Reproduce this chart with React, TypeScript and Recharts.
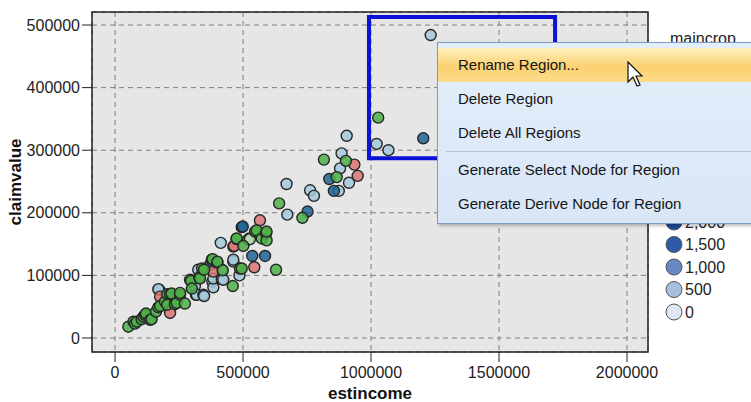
import React from 'react';
import {
	CartesianGrid,
	ReferenceArea,
	Scatter,
	ScatterChart,
	XAxis,
	YAxis,
} from 'recharts';

const xTicks = [0, 500000, 1000000, 1500000, 2000000];
const yTicks = [0, 100000, 200000, 300000, 400000, 500000];

// [estincome, claimvalue] in thousands, one list per maincrop colour
const greenPoints = [
	[52, 18], [72, 26], [78, 23], [85, 26], [104, 30], [111, 34], [117, 37],
	[121, 39], [137, 29], [143, 30], [160, 42], [169, 49], [176, 51], [195, 58],
	[204, 53], [204, 70], [215, 70], [221, 71], [234, 54], [241, 56], [254, 69],
	[254, 72], [273, 55], [293, 93], [297, 91], [300, 79], [329, 97], [332, 95],
	[340, 111], [348, 109], [378, 125], [381, 126], [400, 120], [400, 122],
	[421, 108], [460, 83], [475, 158], [475, 159], [488, 111], [495, 111],
	[501, 147], [547, 170], [553, 172], [573, 159], [590, 167], [592, 156],
	[592, 170], [629, 109], [641, 215], [732, 192], [816, 285], [866, 257],
	[902, 283], [1028, 352],
];
const lightBluePoints = [
	[173, 77], [169, 78], [303, 79], [312, 83], [316, 69], [319, 69], [325, 109],
	[345, 69], [348, 67], [380, 90], [384, 81], [384, 95], [413, 152], [417, 94],
	[417, 109], [423, 93], [462, 122], [462, 125], [486, 100], [525, 159],
	[670, 246], [673, 197], [762, 236], [777, 227], [874, 235], [879, 271],
	[885, 295], [905, 323], [914, 248], [1022, 310], [1068, 300], [1233, 484],
];
const darkBluePoints = [
	[371, 117], [495, 177], [499, 178], [536, 131], [586, 131], [752, 202],
	[837, 254], [855, 235], [1204, 319],
];
const redPoints = [
	[176, 66], [215, 40], [384, 106], [462, 146], [465, 147], [544, 113],
	[566, 188], [935, 277], [948, 259],
];
const paleGreenPoints = [[520, 157], [527, 158]];

// selected region (estincome / claimvalue)
const regionX = [992000, 1719000];
const regionY = [287000, 513000];

const menuItems = [
	'Rename Region...',
	'Delete Region',
	'Delete All Regions',
	'Generate Select Node for Region',
	'Generate Derive Node for Region',
];
const shadeLabels = ['2,000', '1,500', '1,000', '500', '0'];
const shadeColors = ['#1b4c9c', '#2d5ba8', '#6888c3', '#a8bedf', '#dfe7f2'];

const font = '"Liberation Sans", Arial, sans-serif';

const toRows = (pts: number[][]) =>
	pts.map(([x, y]) => ({ estincome: x * 1000, claimvalue: y * 1000 }));

const dot = (fill: string) => (p: any) => (
	<circle
		cx={p.cx}
		cy={p.cy}
		r={5.5}
		fill={fill}
		fillOpacity={0.85}
		stroke="#262626"
		strokeWidth={1.4}
	/>
);

export default function App() {
	return (
		<div
			style={{
				position: 'absolute',
				left: 0,
				top: 0,
				width: 751,
				height: 402,
				overflow: 'hidden',
				background: '#fff',
				fontFamily: font,
			}}
		>
			<ScatterChart
				width={751}
				height={402}
				margin={{ top: 12, right: 103, left: 0, bottom: 0 }}
			>
				<CartesianGrid
					fill="#e6e6e6"
					stroke="#7e7e7e"
					strokeDasharray="5 4"
				/>
				<XAxis
					type="number"
					dataKey="estincome"
					domain={[-90000, 2082000]}
					ticks={xTicks}
					allowDataOverflow
					height={50}
					axisLine={false}
					tickSize={10}
					tickMargin={5}
					tickLine={{ stroke: '#222' }}
					tick={{ fill: '#222', fontSize: 16, fontFamily: font }}
					label={{
						value: 'estincome',
						position: 'insideBottom',
						offset: 3,
						style: { fontWeight: 'bold', fontSize: 17, fill: '#111', fontFamily: font },
					}}
				/>
				<YAxis
					type="number"
					dataKey="claimvalue"
					domain={[-22400, 520800]}
					ticks={yTicks}
					allowDataOverflow
					width={92}
					axisLine={false}
					tickSize={10}
					tickMargin={2}
					tickLine={{ stroke: '#222' }}
					tick={{ fill: '#222', fontSize: 16, fontFamily: font }}
					label={{
						value: 'claimvalue',
						angle: -90,
						position: 'insideLeft',
						offset: 15,
						style: { textAnchor: 'middle', fontWeight: 'bold', fontSize: 17, fill: '#111', fontFamily: font },
					}}
				/>
				<Scatter data={toRows(lightBluePoints)} shape={dot('#a3c8dc')} isAnimationActive={false} />
				<Scatter data={toRows(darkBluePoints)} shape={dot('#1f6495')} isAnimationActive={false} />
				<Scatter data={toRows(redPoints)} shape={dot('#dc7474')} isAnimationActive={false} />
				<Scatter data={toRows(paleGreenPoints)} shape={dot('#b6dcae')} isAnimationActive={false} />
				<Scatter data={toRows(greenPoints)} shape={dot('#4caf48')} isAnimationActive={false} />
				<ReferenceArea
					x1={-90000}
					x2={2082000}
					y1={-22400}
					y2={520800}
					fill="none"
					stroke="#222"
					strokeWidth={1.5}
				/>
				<ReferenceArea
					x1={regionX[0]}
					x2={regionX[1]}
					y1={regionY[0]}
					y2={regionY[1]}
					fill="none"
					stroke="#0a12d6"
					strokeWidth={4}
				/>
			</ScatterChart>

			{/* legend, mostly hidden behind the context menu */}
			<div style={{ position: 'absolute', left: 670, top: 30, fontSize: 16, color: '#222' }}>
				maincrop
			</div>
			<svg style={{ position: 'absolute', left: 660, top: 205 }} width={91} height={120}>
				{shadeLabels.map((lab, i) => (
					<g key={lab}>
						<circle cx={14} cy={17 + i * 22.5} r={8} fill={shadeColors[i]} stroke="#555" strokeWidth={1} />
						<text x={25} y={17 + i * 22.5} dy="0.36em" fontSize={16} fill="#222" fontFamily={font}>
							{lab}
						</text>
					</g>
				))}
			</svg>

			{/* context menu */}
			<div
				style={{
					position: 'absolute',
					left: 437,
					top: 42,
					width: 330,
					height: 180,
					background: 'linear-gradient(#e4eefa, #d8e6f6)',
					border: '1px solid #7b9bc2',
					boxShadow: '2px 2px 3px rgba(0,0,0,0.25)',
					fontSize: 15,
					color: '#151515',
				}}
			>
				{menuItems.map((item, i) => (
					<React.Fragment key={item}>
						{i === 3 && (
							<div style={{ height: 1, margin: '1px 0 1px 8px', background: '#b4c2d2' }} />
						)}
						<div
							style={{
								height: 34,
								lineHeight: '34px',
								paddingLeft: 20,
								marginTop: i === 0 ? 5 : 0,
								background:
									i === 0 ? 'linear-gradient(#fff0c0, #fbd170 55%, #fcdc8c)' : 'transparent',
							}}
						>
							{item}
						</div>
					</React.Fragment>
				))}
			</div>

			{/* mouse pointer */}
			<svg style={{ position: 'absolute', left: 627, top: 61 }} width={20} height={30}>
				<path
					d="M1 1 L1 21 L6 16 L10 25 L13 24 L9 15 L15 15 Z"
					fill="#fff"
					stroke="#111"
					strokeWidth={1.2}
				/>
			</svg>
		</div>
	);
}
